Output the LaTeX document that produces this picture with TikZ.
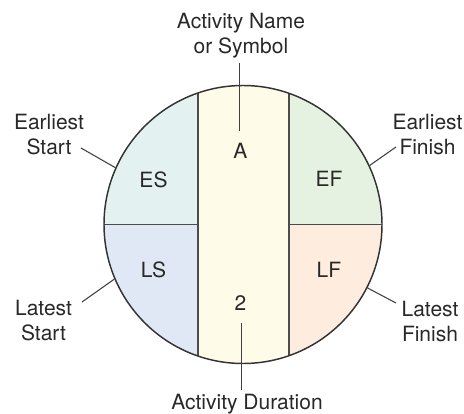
\documentclass[tikz,border=0pt]{standalone}
\usepackage{fontspec}
\setmainfont{TeX Gyre Heros}
\usepackage{xcolor}
\definecolor{esfill}{RGB}{227,242,240}
\definecolor{effill}{RGB}{230,242,225}
\definecolor{lsfill}{RGB}{224,232,245}
\definecolor{lffill}{RGB}{254,236,222}
\definecolor{bandfill}{RGB}{255,251,233}
\definecolor{inkgray}{RGB}{40,40,40}

\begin{document}
\begin{tikzpicture}[x=0.75pt, y=-0.75pt,
    lbl/.style={font=\fontsize{15.75}{18.75}\selectfont, align=center, inner sep=3.5pt, outer sep=0pt, text=inkgray},
    cell/.style={font=\fontsize{15.75}{18.75}\selectfont, inner sep=0pt, text=inkgray},
    divider/.style={draw=black!70, line width=1.1pt},
    leader/.style={draw=black!75, line width=0.8pt}]
    \useasboundingbox (0,0) rectangle (464,414);
    % coloured parts of the disc
    \begin{scope}
        \clip (243,224.5) circle (139);
        \fill[esfill] (100,80) rectangle (198,224.5);
        \fill[lsfill] (100,224.5) rectangle (198,370);
        \fill[effill] (289,80) rectangle (390,224.5);
        \fill[lffill] (289,224.5) rectangle (390,370);
        \fill[bandfill] (198,80) rectangle (289,370);
        \draw[divider] (198,80) -- (198,370);
        \draw[divider] (289,80) -- (289,370);
        \draw[divider] (100,224.5) -- (198,224.5);
        \draw[divider] (289,224.5) -- (390,224.5);
    \end{scope}
    \node[circle, draw=black!80, line width=1.1pt, minimum size=208.5pt, inner sep=0pt] (disc) at (243,224.5) {};
    % cell entries
    \node[cell] (act) at (240.5,150.5) {A};
    \node[cell] (dur2) at (240.5,303) {2};
    \node[cell] (es) at (153.5,179.5) {ES};
    \node[cell] (ef) at (329,178.5) {EF};
    \node[cell] (ls) at (153.5,270) {LS};
    \node[cell] (lf) at (329,270) {LF};
    % outside labels
    \node[lbl, anchor=south] (name) at (241,63) {Activity Name\\or Symbol};
    \node[lbl, anchor=north] (dur) at (247,389.5) {Activity Duration};
    \node[lbl] (esname) at (49,135) {Earliest\\Start};
    \node[lbl] (efname) at (427.5,135) {Earliest\\Finish};
    \node[lbl] (lsname) at (43.5,321) {Latest\\Start};
    \node[lbl] (lfname) at (430,321) {Latest\\Finish};
    % leader lines
    \coordinate (namept) at (239.5,131);
    \coordinate (durpt) at (241.5,323);
    \coordinate (esend) at (81,148);
    \coordinate (efend) at (396,147);
    \coordinate (lsend) at (82,302);
    \coordinate (lfend) at (396,303);
    \draw[leader] (namept) -- (namept |- name.south);
    \draw[leader] (durpt) -- (durpt |- dur.north);
    \draw[leader] (esend) -- (disc.156.6);
    \draw[leader] (efend) -- (disc.25.3);
    \draw[leader] (lsend) -- (disc.203.8);
    \draw[leader] (lfend) -- (disc.333.4);
\end{tikzpicture}
\end{document}
